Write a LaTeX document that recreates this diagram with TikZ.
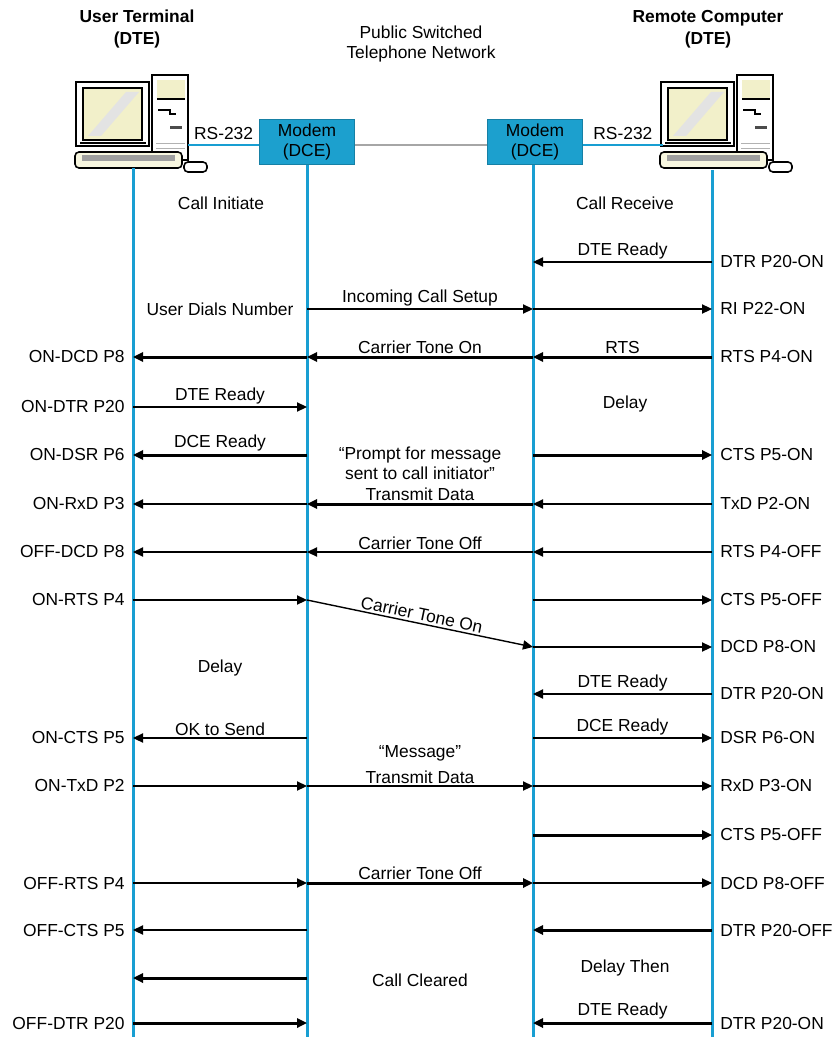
\documentclass[tikz,border=0pt]{standalone}
\usepackage{fontspec}
\setmainfont{Liberation Sans}
\usetikzlibrary{arrows.meta}

\definecolor{lifeblue}{RGB}{24,158,210}
\definecolor{modemblue}{RGB}{28,160,206}
\definecolor{screenyellow}{RGB}{242,240,202}

\begin{document}
\begin{tikzpicture}[x=0.5pt, y=-0.5pt,
    every node/.style={font=\fontsize{8.7}{10.2}\selectfont, inner sep=0pt},
    life/.style={lifeblue, line width=1.5pt},
    msg/.style={-{Triangle[length=5pt, width=4.6pt]}, line width=0.7pt},
    msgthick/.style={msg, line width=1.5pt},
    modem/.style={fill=modemblue, draw=modemblue!80!black, line width=0.3pt, minimum width=47.5pt, minimum height=22.5pt, align=center}]
	\useasboundingbox (0,0) rectangle (838,1037);
	\foreach \dx in {0,585}{
		\begin{scope}[shift={(\dx,0)}]
			\draw[fill=white, line width=0.6pt] (76,82) rectangle (149,146);
			\fill[screenyellow] (83,88) rectangle (142,140);
			\fill[gray!22] (88,136) -- (101,136) -- (139,92) -- (126,92) -- cycle;
			\draw[line width=0.8pt] (83,88) rectangle (142,140);
			\draw[line width=1.3pt] (76,84) -- (76,144);
			\draw[line width=1pt] (80,143) -- (146,143);
			\draw[fill=white, line width=0.8pt] (152,75) rectangle (188,160);
			\fill[screenyellow] (157,80) rectangle (185,98);
			\draw[line width=0.8pt] (157,99) -- (185,99);
			\draw[line width=1pt] (158,110) -- (170,110) -- (170,114) -- (176,114);
			\fill[black!70] (170,126) rectangle (182,129);
			\draw[gray!60] (156,143) -- (185,143) (156,148) -- (185,148);
			\draw[fill=screenyellow!60, line width=0.8pt, rounded corners=2pt] (75,152) rectangle (182,168);
			\fill[gray!75] (82,155) rectangle (175,161);
			\draw[fill=white, line width=0.8pt, rounded corners=2pt] (184,162) rectangle (207,172);
		\end{scope}
	}
	\node[font=\bfseries\fontsize{8.7}{11}\selectfont, align=center] (utname) at (137,29) {User Terminal\\(DTE)};
	\node[align=center] (pstn) at (421,44) {Public Switched\\Telephone Network};
	\node[font=\bfseries\fontsize{8.7}{11}\selectfont, align=center] (rcname) at (708,29) {Remote Computer\\(DTE)};
	\node[modem] (modemL) at (307,142) {Modem\\(DCE)};
	\node[modem] (modemR) at (535,142) {Modem\\(DCE)};
	\coordinate (utport) at (188,145);
	\coordinate (rcport) at (663,145);
	\draw[lifeblue, line width=1pt] (utport) -- node[above=2pt, black]{RS-232} (utport -| modemL.west);
	\draw[gray!70, line width=0.8pt] (modemL.east |- utport) -- (modemR.west |- utport);
	\draw[lifeblue, line width=1pt] (modemR.east |- rcport) -- node[above=2pt, black]{RS-232} (rcport);
	\coordinate (ut) at (133,168);
	\coordinate (ml) at (307,0);
	\coordinate (mr) at (533,0);
	\coordinate (rc) at (712,170);
	\coordinate (bottom) at (0,1037);
	\draw[life] (ut) -- (ut |- bottom);
	\draw[life] (ml |- modemL.south) -- (ml |- bottom);
	\draw[life] (mr |- modemR.south) -- (mr |- bottom);
	\draw[life] (rc) -- (rc |- bottom);
	\node (callinit) at (221,203) {Call Initiate};
	\node (callrecv) at (625,203) {Call Receive};
	\foreach \n/\y in {1/262,2/309,3/357,4/407,5/455,6/504,7/552,8/600,9/647,10/694,11/738,12/786,13/835,14/883,15/930,16/978,17/1023}{
		\coordinate (r\n) at (0,\y);
	}
	\draw[msg] (rc |- r1) -- node[above=1pt]{DTE Ready} (mr |- r1);
	\node[right=4pt] at (rc |- r1) {DTR P20-ON};
	\node (dials) at (220,309) {User Dials Number};
	\draw[msg] (ml |- r2) -- node[above=1pt]{Incoming Call Setup} (mr |- r2);
	\draw[msg] (mr |- r2) -- (rc |- r2);
	\node[right=4pt] at (rc |- r2) {RI P22-ON};
	\draw[msgthick] (mr |- r3) -- node[above=1pt]{Carrier Tone On} (ml |- r3);
	\draw[msgthick] (ml |- r3) -- (ut |- r3);
	\draw[msgthick] (rc |- r3) -- node[above=1pt]{RTS} (mr |- r3);
	\node[left=4pt] at (ut |- r3) {ON-DCD P8};
	\node[right=4pt] at (rc |- r3) {RTS P4-ON};
	\draw[msg] (ut |- r4) -- node[above=1pt]{DTE Ready} (ml |- r4);
	\node[left=4pt] at (ut |- r4) {ON-DTR P20};
	\node (delay1) at (625,404) {Delay};
	\draw[msgthick] (ml |- r5) -- node[above=1pt]{DCE Ready} (ut |- r5);
	\draw[msgthick] (mr |- r5) -- (rc |- r5);
	\node[left=4pt] at (ut |- r5) {ON-DSR P6};
	\node[right=4pt] at (rc |- r5) {CTS P5-ON};
	\node[align=center] (prompt) at (420,463) {``Prompt for message\\sent to call initiator''};
	\draw[msgthick] (mr |- r6) -- node[above=1pt]{Transmit Data} (ml |- r6);
	\draw[msg] (ml |- r6) -- (ut |- r6);
	\draw[msg] (rc |- r6) -- (mr |- r6);
	\node[left=4pt] at (ut |- r6) {ON-RxD P3};
	\node[right=4pt] at (rc |- r6) {TxD P2-ON};
	\draw[msg] (mr |- r7) -- node[above=1pt]{Carrier Tone Off} (ml |- r7);
	\draw[msg] (ml |- r7) -- (ut |- r7);
	\draw[msg] (rc |- r7) -- (mr |- r7);
	\node[left=4pt] at (ut |- r7) {OFF-DCD P8};
	\node[right=4pt] at (rc |- r7) {RTS P4-OFF};
	\draw[msg] (ut |- r8) -- (ml |- r8);
	\draw[msg] (ml |- r8) -- node[above=1pt, sloped]{Carrier Tone On} (mr |- r9);
	\draw[msg] (mr |- r8) -- (rc |- r8);
	\node[left=4pt] at (ut |- r8) {ON-RTS P4};
	\node[right=4pt] at (rc |- r8) {CTS P5-OFF};
	\draw[msg] (mr |- r9) -- (rc |- r9);
	\node[right=4pt] at (rc |- r9) {DCD P8-ON};
	\node (delay2) at (220,668) {Delay};
	\draw[msg] (rc |- r10) -- node[above=1pt]{DTE Ready} (mr |- r10);
	\node[right=4pt] at (rc |- r10) {DTR P20-ON};
	\draw[msg] (ml |- r11) -- node[above=1pt]{OK to Send} (ut |- r11);
	\draw[msg] (mr |- r11) -- node[above=1pt]{DCE Ready} (rc |- r11);
	\node[left=4pt] at (ut |- r11) {ON-CTS P5};
	\node[right=4pt] at (rc |- r11) {DSR P6-ON};
	\node (message) at (420,753) {``Message''};
	\draw[msg] (ut |- r12) -- (ml |- r12);
	\draw[msg] (ml |- r12) -- node[above=1pt]{Transmit Data} (mr |- r12);
	\draw[msg] (mr |- r12) -- (rc |- r12);
	\node[left=4pt] at (ut |- r12) {ON-TxD P2};
	\node[right=4pt] at (rc |- r12) {RxD P3-ON};
	\draw[msgthick] (mr |- r13) -- (rc |- r13);
	\node[right=4pt] at (rc |- r13) {CTS P5-OFF};
	\draw[msg] (ut |- r14) -- (ml |- r14);
	\draw[msgthick] (ml |- r14) -- node[above=1pt]{Carrier Tone Off} (mr |- r14);
	\draw[msg] (mr |- r14) -- (rc |- r14);
	\node[left=4pt] at (ut |- r14) {OFF-RTS P4};
	\node[right=4pt] at (rc |- r14) {DCD P8-OFF};
	\draw[msg] (ml |- r15) -- (ut |- r15);
	\draw[msgthick] (rc |- r15) -- (mr |- r15);
	\node[left=4pt] at (ut |- r15) {OFF-CTS P5};
	\node[right=4pt] at (rc |- r15) {DTR P20-OFF};
	\draw[msgthick] (ml |- r16) -- (ut |- r16);
	\node (cleared) at (420,980) {Call Cleared};
	\node (delaythen) at (625,968) {Delay Then};
	\draw[msgthick] (ut |- r17) -- (ml |- r17);
	\draw[msgthick] (rc |- r17) -- node[above=1pt]{DTE Ready} (mr |- r17);
	\node[left=4pt] at (ut |- r17) {OFF-DTR P20};
	\node[right=4pt] at (rc |- r17) {DTR P20-ON};
\end{tikzpicture}
\end{document}
